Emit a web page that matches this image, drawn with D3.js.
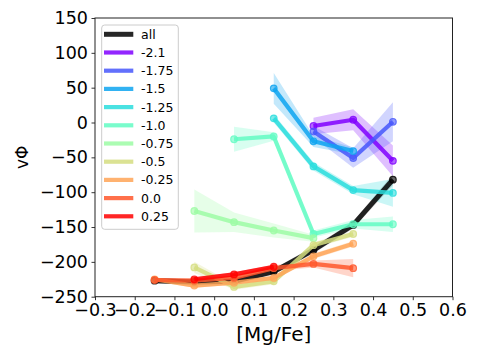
<!DOCTYPE html>
<html><head><meta charset="utf-8">
<script src="https://cdn.jsdelivr.net/npm/d3@7"></script>
<style>body{margin:0;background:#fff}svg{display:block;font-family:"DejaVu Sans",sans-serif}</style>
</head><body><svg id="c" width="479" height="359"></svg>
<script>
// ---- data ----
const seriesNames = ["all","-2.1","-1.75","-1.5","-1.25","-1.0","-0.75","-0.5","-0.25","0.0","0.25"];
const xAll   = [-0.15,-0.05,0.05,0.15,0.25,0.35,0.45];
const yAll   = [-227,-229,-228,-214,-183,-147,-82];
const eAll   = [4,4,4,4,5,5,8];
const xM21   = [0.25,0.35,0.45];
const yM21   = [-5,4,-55];
const eM21   = [12,15,22];
const xM175  = [0.25,0.35,0.45];
const yM175  = [-13,-51,1];
const eM175  = [8,14,28];
const xM15   = [0.15,0.25,0.35];
const yM15   = [49,-27,-41];
const eM15   = [22,8,5];
const xM125  = [0.15,0.25,0.35,0.45];
const yM125  = [6,-63,-97,-101];
const eM125  = [6,6,6,20];
const xM10   = [0.05,0.15,0.25,0.35,0.45];
const yM10   = [-24,-20,-160,-146,-146];
const eM10   = [18,6,5,6,11];
const xM075  = [-0.05,0.05,0.15,0.25];
const yM075  = [-127,-143,-155,-166];
const eM075  = [31,14,10,5];
const xM05   = [-0.05,0.05,0.15,0.25,0.35];
const yM05   = [-208,-236,-228,-176,-160];
const eM05   = [8,4,4,4,4];
const xM025  = [-0.15,-0.05,0.05,0.15,0.25,0.35];
const yM025  = [-225,-234,-230,-223,-192,-174];
const eM025  = [3,3,3,3,4,4];
const xP00   = [-0.15,-0.05,0.05,0.15,0.25,0.35];
const yP00   = [-226,-227,-223,-209,-203,-209];
const eP00   = [3,3,3,4,5,13];
const xP025  = [-0.05,0.05,0.15];
const yP025  = [-225,-218,-207];
const eP025  = [3,3,3];
const xTicks = [-0.3,-0.2,-0.1,0.0,0.1,0.2,0.3,0.4,0.5,0.6];
const yTicks = [150,100,50,0,-50,-100,-150,-200,-250];

const colors = ["#000000","#8000ff","#4757fb","#0ea4f0","#2adddd","#63fbc3","#9cfba4","#d5dd80","#ffa457","#ff572c","#ff0000"];
const xs = [xAll,xM21,xM175,xM15,xM125,xM10,xM075,xM05,xM025,xP00,xP025];
const ys = [yAll,yM21,yM175,yM15,yM125,yM10,yM075,yM05,yM025,yP00,yP025];
const es = [eAll,eM21,eM175,eM15,eM125,eM10,eM075,eM05,eM025,eP00,eP025];
const series = seriesNames.map((n,i)=>({name:n,color:colors[i],
  pts: xs[i].map((x,j)=>({x, y: ys[i][j], e: es[i][j]}))}));

// ---- layout ----
const L=95, R=452.5, T=18, B=296.7;
const svg = d3.select("#c");
const x = d3.scaleLinear().domain([-0.3,0.6]).range([L,R]);
const y = d3.scaleLinear().domain([-250,150]).range([B,T]);

const plot = svg.append("g");
const area = d3.area().x(d=>x(d.x)).y0(d=>y(d.y-d.e)).y1(d=>y(d.y+d.e));
const line = d3.line().x(d=>x(d.x)).y(d=>y(d.y));

series.forEach((s,i)=>{
  plot.append("path").attr("d",area(s.pts)).attr("fill",s.color)
    .attr("fill-opacity", i===0?0.15:0.25).attr("stroke","none");
});
series.forEach((s,i)=>{
  const g = plot.append("g");
  g.append("path").attr("d",line(s.pts)).attr("fill","none").attr("stroke",s.color)
    .attr("stroke-width", i===0?5:4.2).attr("stroke-opacity",0.85)
    .attr("stroke-linejoin","round").attr("stroke-linecap","butt");
  g.selectAll("circle").data(s.pts).join("circle")
    .attr("cx",d=>x(d.x)).attr("cy",d=>y(d.y)).attr("r",3.3)
    .attr("fill",s.color).attr("fill-opacity",0.6)
    .attr("stroke",s.color).attr("stroke-opacity",0.8).attr("stroke-width",1.2);
});

// axes
const fmtY = d3.format("d");
const fmtX = d3.format(".1f");
const xAxis = d3.axisBottom(x).tickValues(xTicks).tickFormat(fmtX).tickSize(3.5).tickPadding(3.5);
const yAxis = d3.axisLeft(y).tickValues(yTicks).tickFormat(fmtY).tickSize(3.5).tickPadding(3.5);
const gx = svg.append("g").attr("transform",`translate(0,${B})`).call(xAxis);
const gy = svg.append("g").attr("transform",`translate(${L},0)`).call(yAxis);
[gx,gy].forEach(g=>{
  g.select(".domain").remove();
  g.selectAll("text").attr("font-size",17.5).attr("font-family","DejaVu Sans").attr("fill","#000");
  g.selectAll("line").attr("stroke","#000").attr("stroke-width",0.8);
});
svg.append("rect").attr("x",L).attr("y",T).attr("width",R-L).attr("height",B-T)
  .attr("fill","none").attr("stroke","#222").attr("stroke-width",1);

svg.append("text").attr("x",(L+R)/2).attr("y",341).attr("text-anchor","middle")
  .attr("font-size",20).text("[Mg/Fe]");
svg.append("text").attr("transform",`translate(27.5,${(T+B)/2}) rotate(-90)`)
  .attr("text-anchor","middle").attr("font-size",17).text("vΦ");

// legend
const lg = svg.append("g");
lg.append("rect").attr("x",101.7).attr("y",25).attr("width",76.6).attr("height",204.3)
  .attr("rx",3).attr("fill","#fff").attr("fill-opacity",0.8).attr("stroke","#ccc").attr("stroke-width",1);
series.forEach((s,i)=>{
  const yy = 34.3 + i*18.2;
  lg.append("line").attr("x1",104).attr("x2",133.3).attr("y1",yy).attr("y2",yy)
    .attr("stroke",s.color).attr("stroke-width",i===0?5:4.2).attr("stroke-opacity",0.85);
  lg.append("text").attr("x",141).attr("y",yy).attr("dy","0.36em").attr("font-size",12.5).text(s.name);
});
</script></body></html>
